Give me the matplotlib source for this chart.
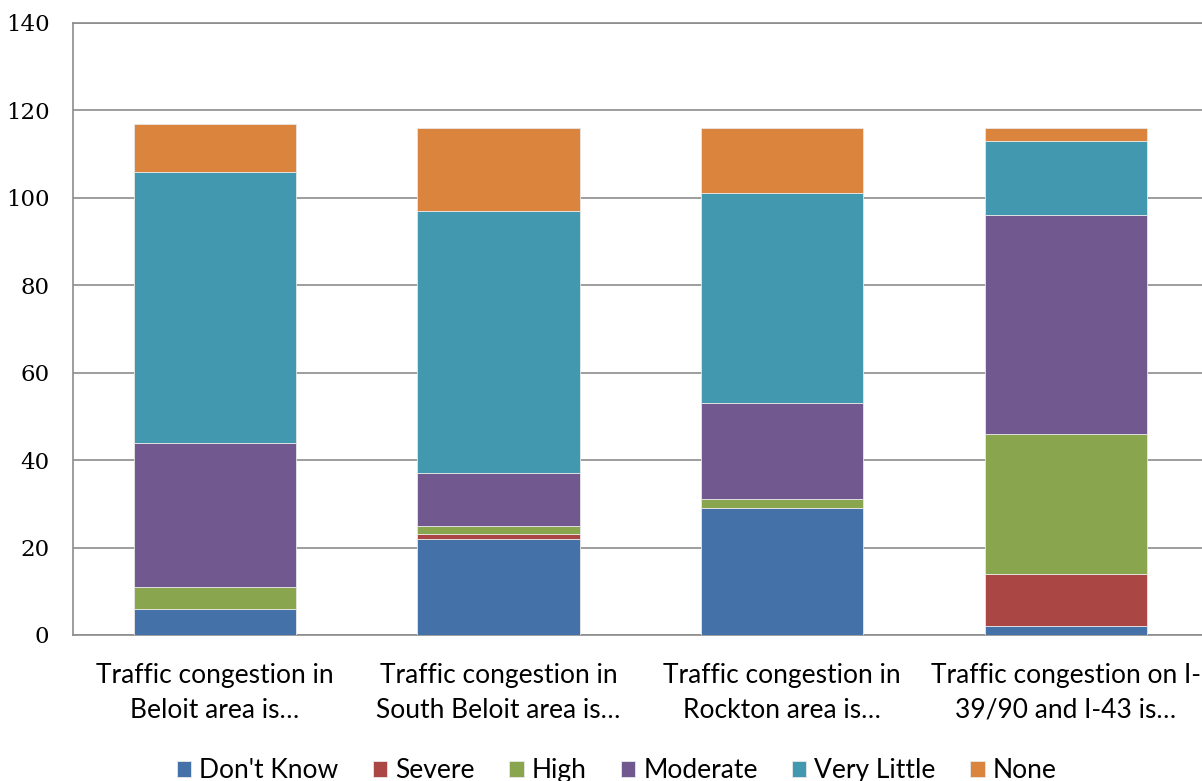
import matplotlib
matplotlib.use("Agg")
import matplotlib.pyplot as plt
import numpy as np

categories = ["Traffic congestion in\nBeloit area is…",
              "Traffic congestion in\nSouth Beloit area is…",
              "Traffic congestion in\nRockton area is…",
              "Traffic congestion on I-\n39/90 and I-43 is…"]
series_names = ["Don't Know", "Severe", "High", "Moderate", "Very Little", "None"]
dont_know = [6, 22, 29, 2]
severe = [0, 1, 0, 12]
high = [5, 2, 2, 32]
moderate = [33, 12, 22, 50]
very_little = [62, 60, 48, 17]
none = [11, 19, 15, 3]
colors = ["#4472A8", "#AA4643", "#89A54E", "#71588F", "#4198AF", "#DB843D"]
yticks = [0, 20, 40, 60, 80, 100, 120, 140]

fig = plt.figure(figsize=(12.02, 7.81), dpi=100)
ax = fig.add_axes([0.0607, 0.187, 0.944, 0.7836])

x = np.arange(len(categories))
bottom = np.zeros(len(categories))
for name, vals, c in zip(series_names, [dont_know, severe, high, moderate, very_little, none], colors):
    ax.bar(x, vals, 0.572, bottom=bottom, color=c, label=name,
           edgecolor="#e8e8e8", linewidth=0.6, zorder=3)
    bottom += np.array(vals)

ax.set_xlim(-0.5, 3.5)
ax.set_ylim(0, 140)
ax.set_yticks(yticks)
ax.set_yticklabels([str(t) for t in yticks], fontfamily="DejaVu Serif", fontsize=16.5)
ax.set_xticks(x)
ax.set_xticklabels(categories, fontfamily="Lato", fontsize=19, linespacing=1.5)
ax.tick_params(axis="both", length=0, colors="black")
ax.tick_params(axis="y", pad=17)
ax.tick_params(axis="x", pad=20)
ax.yaxis.grid(True, color="#8c8c8c", linewidth=1.2, zorder=0)
for s in ["left", "top", "right", "bottom"]:
    ax.spines[s].set_color("#8c8c8c")
    ax.spines[s].set_linewidth(1.2)

leg = fig.legend(loc="lower center", bbox_to_anchor=(0.513, -0.033), ncol=6, frameon=False,
                 prop={"family": "Lato", "size": 19}, handlelength=0.55, handleheight=0.55,
                 handletextpad=0.3, columnspacing=1.3)
fig.savefig("out.png", dpi=100)
